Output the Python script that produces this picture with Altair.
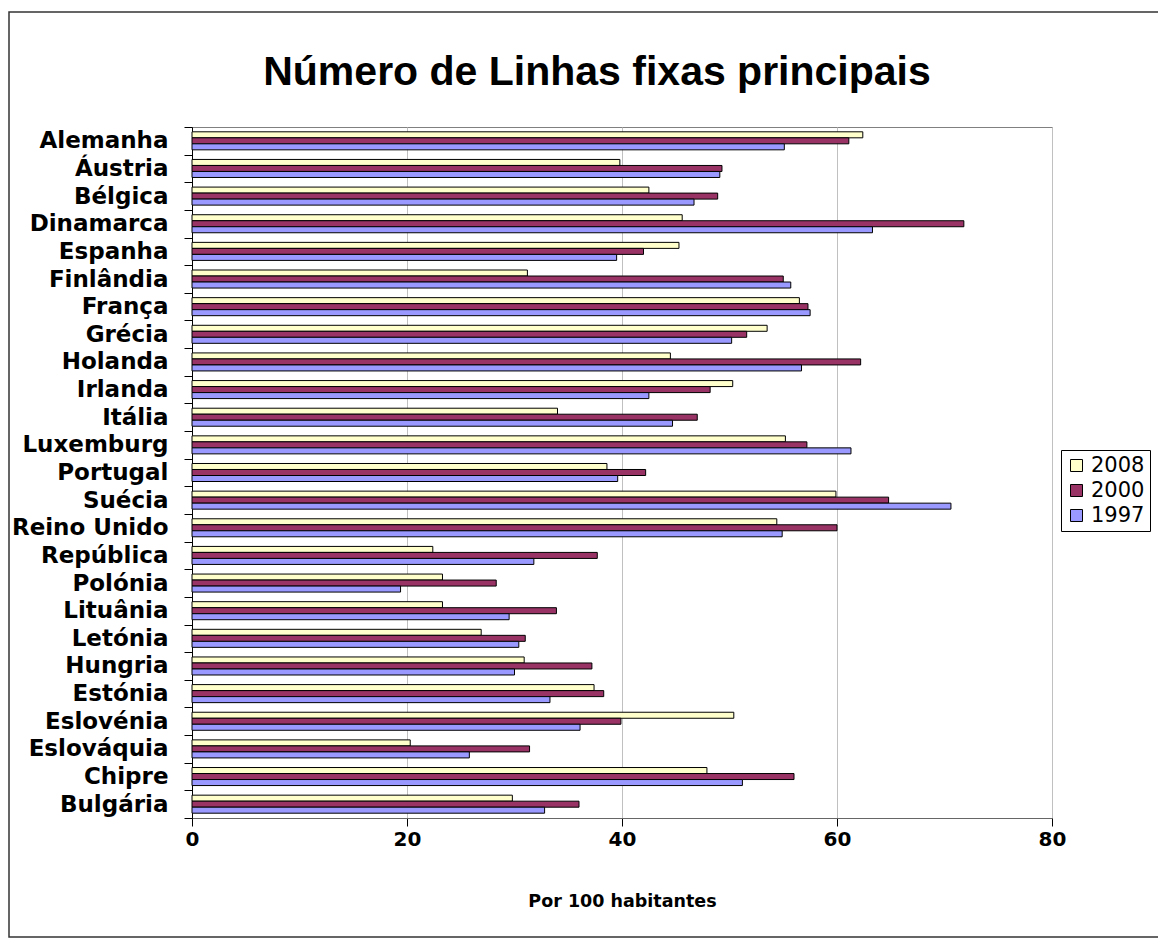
import altair as alt
import pandas as pd

countries = ["Alemanha", "Áustria", "Bélgica", "Dinamarca", "Espanha", "Finlândia",
             "França", "Grécia", "Holanda", "Irlanda", "Itália", "Luxemburg",
             "Portugal", "Suécia", "Reino Unido", "República", "Polónia", "Lituânia",
             "Letónia", "Hungria", "Estónia", "Eslovénia", "Eslováquia", "Chipre",
             "Bulgária"]
years = ["2008", "2000", "1997"]
v2008 = [62.4, 39.8, 42.5, 45.6, 45.3, 31.2, 56.5, 53.5, 44.5, 50.3, 34.0, 55.2,
         38.6, 59.9, 54.4, 22.4, 23.3, 23.3, 26.9, 30.9, 37.4, 50.4, 20.3, 47.9, 29.8]
v2000 = [61.1, 49.3, 48.9, 71.8, 42.0, 55.0, 57.3, 51.6, 62.2, 48.2, 47.0, 57.2,
         42.2, 64.8, 60.0, 37.7, 28.3, 33.9, 31.0, 37.2, 38.3, 39.9, 31.4, 56.0, 36.0]
v1997 = [55.1, 49.1, 46.7, 63.3, 39.5, 55.7, 57.5, 50.2, 56.7, 42.5, 44.7, 61.3,
         39.6, 70.6, 54.9, 31.8, 19.4, 29.5, 30.4, 30.0, 33.3, 36.1, 25.8, 51.2, 32.8]
colors = ["#FFFFCC", "#993366", "#9999FF"]
title_text = "Número de Linhas fixas principais"
x_title = "Por 100 habitantes"

rows = []
for c, a, b, d in zip(countries, v2008, v2000, v1997):
    rows.append({"pais": c, "ano": "2008", "valor": a})
    rows.append({"pais": c, "ano": "2000", "valor": b})
    rows.append({"pais": c, "ano": "1997", "valor": d})
df = pd.DataFrame(rows)

W, H = 860, 691
FONT = "DejaVu Sans"

bars = alt.Chart(df).mark_bar(stroke="black", strokeWidth=1).encode(
    x=alt.X("valor:Q",
            scale=alt.Scale(domain=[0, 80], nice=False),
            axis=alt.Axis(values=[0, 20, 40, 60, 80], title=x_title, grid=True,
                          gridColor="#c0c0c0", domainColor="#666666", tickColor="black",
                          tickSize=8, labelFont=FONT, labelFontSize=20,
                          labelFontWeight="bold", labelColor="black", labelPadding=3,
                          labelFlush=False, titleFont=FONT, titleFontSize=17.5,
                          titleFontWeight="bold", titleColor="black", titlePadding=43)),
    y=alt.Y("pais:N", sort=countries,
            scale=alt.Scale(paddingInner=0, paddingOuter=0),
            axis=alt.Axis(title=None, tickBand="extent", grid=False, domainColor="black",
                          tickColor="black", tickSize=8, labelFont=FONT, labelFontSize=23,
                          labelFontWeight="bold", labelColor="black", labelPadding=16,
                          labelOverlap=False, labelLimit=400)),
    yOffset=alt.YOffset("ano:N", sort=years,
                        scale=alt.Scale(paddingInner=0, paddingOuter=0.8)),
    color=alt.Color("ano:N", sort=years,
                    scale=alt.Scale(domain=years, range=colors),
                    legend=alt.Legend(orient="none", legendX=869, legendY=323, title=None,
                                      symbolType="square", symbolSize=144,
                                      symbolStrokeColor="black", symbolStrokeWidth=1,
                                      labelFont=FONT, labelFontSize=21,
                                      labelColor="black", fillColor="white",
                                      strokeColor="black", padding=5, rowPadding=3,
                                      labelOffset=4)),
)

border = alt.Chart(pd.DataFrame({"a": [0]})).mark_rect(
    fillOpacity=0, stroke="#333333", strokeWidth=1.5
).encode(x=alt.value(-183), x2=alt.value(W + 400), y=alt.value(-115), y2=alt.value(810))

title = alt.Chart(pd.DataFrame({"t": [title_text]})).mark_text(
    font="Liberation Sans", fontSize=41, fontWeight="bold", align="center",
    baseline="middle", color="black"
).encode(text="t:N", x=alt.value(405), y=alt.value(-54))

chart = alt.layer(border, bars, title).properties(
    width=W, height=H,
    autosize=alt.AutoSizeParams(type="none"),
    padding={"left": 184, "top": 119, "right": 106, "bottom": 121},
    background="white",
).configure_view(stroke="#808080", strokeWidth=1)

chart.save("out.html", embed_options={"renderer": "svg", "actions": False})
